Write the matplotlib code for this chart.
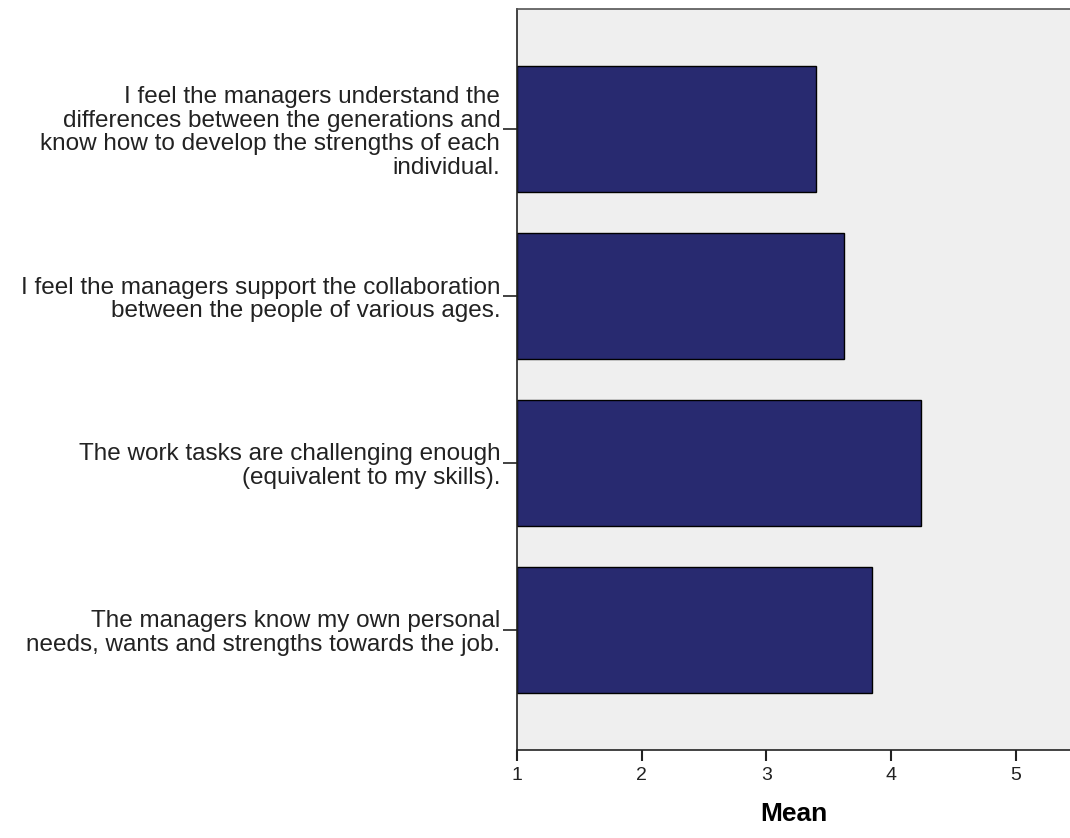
import matplotlib
matplotlib.use("Agg")
import matplotlib.pyplot as plt

# survey items, top to bottom as drawn
items = [
    "I feel the managers understand the\ndifferences between the generations and\nknow how to develop the strengths of each\nindividual.",
    "I feel the managers support the collaboration\nbetween the people of various ages.",
    "The work tasks are challenging enough\n(equivalent to my skills).",
    "The managers know my own personal\nneeds, wants and strengths towards the job.",
]
means = [3.40, 3.62, 4.24, 3.85]
xticks = [1, 2, 3, 4, 5]

plt.rcParams['font.family'] = ['Liberation Sans', 'DejaVu Sans']

fig = plt.figure(figsize=(10.7, 8.38), dpi=100)
ax = fig.add_axes([517 / 1070, 88 / 838, 553 / 1070, 741 / 838])
ax.set_facecolor('#efefef')

pos = list(range(len(items)))
ax.barh(pos, [m - 1 for m in means], left=1, height=0.757,
        color='#282a70', edgecolor='black', linewidth=1.0)

ax.set_xlim(1, 1 + 553 / 124.7)
ax.set_ylim(len(items) - 1 + 0.72, -0.72)

ax.set_yticks(pos)
ax.set_yticklabels(items, fontsize=17.5, linespacing=1.1)
ax.set_xticks(xticks)
ax.set_xticklabels([str(t) for t in xticks], fontsize=14)

ax.tick_params(axis='y', length=10, width=1.2, pad=2, colors='#222222')
ax.tick_params(axis='x', length=8, width=1.5, pad=4, colors='#222222')
for lbl in ax.get_yticklabels():
    lbl.set_horizontalalignment('right')

ax.spines['left'].set_color('#222222')
ax.spines['bottom'].set_color('#222222')
ax.spines['top'].set_color('#555555')
ax.spines['right'].set_visible(False)
for s in ['left', 'bottom', 'top']:
    ax.spines[s].set_linewidth(1.2)

ax.set_xlabel('Mean', fontsize=19, fontweight='bold', labelpad=13)

fig.savefig('out.png', dpi=100, facecolor='white')
